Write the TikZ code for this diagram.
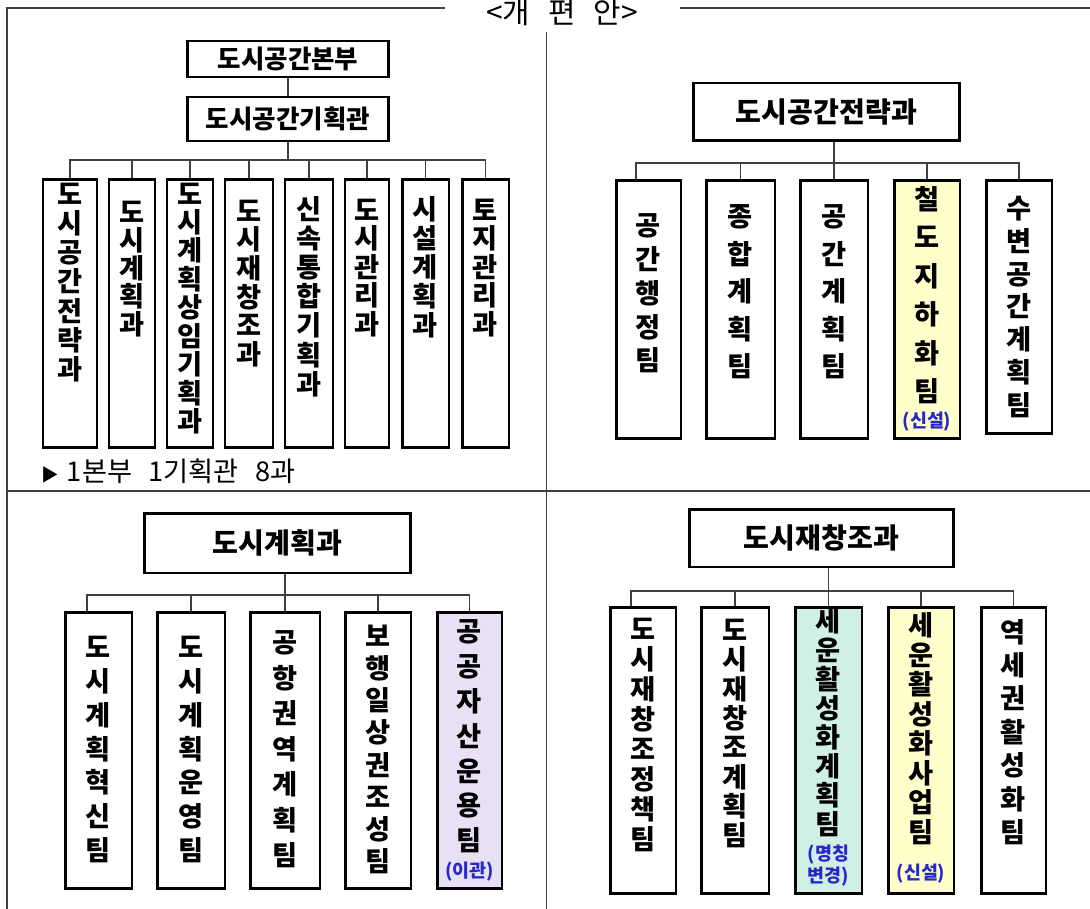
\documentclass[tikz,border=0pt]{standalone}
\usepackage{fontspec}
\usepackage{xcolor}
\usetikzlibrary{positioning}
\newfontfamily\kr{Noto Sans CJK KR}
\definecolor{newteam}{RGB}{255,255,204}
\definecolor{renamed}{RGB}{208,240,230}
\definecolor{moved}{RGB}{232,224,244}
\definecolor{remark}{RGB}{40,40,200}
\definecolor{frameline}{RGB}{64,64,64}

\begin{document}
\begin{tikzpicture}[x=0.02cm,y=-0.02cm,
    head node/.style={draw,line width=1.7pt,inner sep=0pt,font=\kr\bfseries\fontsize{16}{19}\selectfont},
    unit node/.style={draw,line width=1.7pt,inner sep=0pt},
    unit text/.style={align=center,inner sep=0pt,font=\kr\bfseries\fontsize{15.5}{#1}\selectfont},
    note text/.style={align=center,inner sep=0pt,text=remark,font=\kr\bfseries\fontsize{10.5}{12.5}\selectfont},
    link/.style={draw=frameline,line width=0.85pt},
    frame/.style={draw=frameline,line width=1.1pt}]

    \useasboundingbox (0,0) rectangle (1090,909);

    % frame
    \node[font=\kr\fontsize{17}{20}\selectfont,anchor=base] (title) at (562,24) {<개\hspace{0.6em}편\hspace{0.6em}안>};
    \draw[frame] (445,8) -- (7,8) -- (7,909);
    \draw[frame] (680,8) -- (1090,8);
    \draw[frame] (7,491) -- (1090,491);
    \draw[frame] (546.5,32) -- (546.5,909);

    % headquarters
    \node[head node,font=\kr\bfseries\fontsize{14.5}{17}\selectfont,minimum width=4.04cm,minimum height=0.72cm] (hq1) at (288,59) {도시공간본부};
    \node[head node,font=\kr\bfseries\fontsize{14.5}{17}\selectfont,minimum width=4.04cm,minimum height=0.88cm] (hq2) at (288,119) {도시공간기획관};

    \node[unit node,minimum width=1.08cm,minimum height=5.38cm] (tl1) at (70,313.5) {};
    \node[unit node,minimum width=0.92cm,minimum height=5.38cm] (tl2) at (132,313.5) {};
    \node[unit node,minimum width=0.92cm,minimum height=5.38cm] (tl3) at (190,313.5) {};
    \node[unit node,minimum width=0.96cm,minimum height=5.38cm] (tl4) at (249,313.5) {};
    \node[unit node,minimum width=0.96cm,minimum height=5.38cm] (tl5) at (309,313.5) {};
    \node[unit node,minimum width=0.88cm,minimum height=5.38cm] (tl6) at (367,313.5) {};
    \node[unit node,minimum width=0.94cm,minimum height=5.38cm] (tl7) at (425.5,313.5) {};
    \node[unit node,minimum width=0.94cm,minimum height=5.38cm] (tl8) at (485.5,313.5) {};

    \node[unit text=16.6] (tl1t) at (70,282.5) {도\\시\\공\\간\\전\\략\\과};
    \node[unit text=15.9] (tl2t) at (132,269) {도\\시\\계\\획\\과};
    \node[unit text=16.2] (tl3t) at (190,308.5) {도\\시\\계\\획\\상\\임\\기\\획\\과};
    \node[unit text=16.3] (tl4t) at (249,283.5) {도\\시\\재\\창\\조\\과};
    \node[unit text=16.6] (tl5t) at (309,296.5) {신\\속\\통\\합\\기\\획\\과};
    \node[unit text=16.2] (tl6t) at (367,268) {도\\시\\관\\리\\과};
    \node[unit text=16.5] (tl7t) at (425.5,267) {시\\설\\계\\획\\과};
    \node[unit text=16.2] (tl8t) at (485.5,268) {토\\지\\관\\리\\과};

    \coordinate (tlbus) at (288,160);
    \draw[link] (hq1) -- (hq2);
    \draw[link] (hq2) -- (tlbus);
    \draw[link] (tl1.north) |- (tlbus) -| (tl8.north);
    \foreach \n in {2,...,7}
        \draw[link] (tl\n.north) -- (tl\n.north |- tlbus);

    \node[anchor=base west,font=\kr\fontsize{15.5}{18}\selectfont] (sum) at (35,481)
        {{\fontsize{10}{10}\selectfont ▶}\hspace{0.3em}1본부\hspace{0.6em}1기획관\hspace{0.6em}8과};

    % spatial strategy
    \node[head node,minimum width=5.34cm,minimum height=1.16cm] (sp) at (826.5,112) {도시공간전략과};

    \node[unit node,minimum width=1.30cm,minimum height=5.18cm] (sp1) at (648.5,309.5) {};
    \node[unit node,minimum width=1.38cm,minimum height=5.18cm] (sp2) at (740.5,309.5) {};
    \node[unit node,minimum width=1.36cm,minimum height=5.18cm] (sp3) at (834,309.5) {};
    \node[unit node,fill=newteam,minimum width=1.32cm,minimum height=5.18cm] (sp4) at (927,309.5) {};
    \node[unit node,minimum width=1.32cm,minimum height=5.08cm] (sp5) at (1019,307) {};

    \node[unit text=19.2] (sp1t) at (648.5,293.5) {공\\간\\행\\정\\팀};
    \node[unit text=21.3] (sp2t) at (740.5,292) {종\\합\\계\\획\\팀};
    \node[unit text=21.3] (sp3t) at (834,292) {공\\간\\계\\획\\팀};
    \node[unit text=21.9] (sp4t) at (927,295) {철\\도\\지\\하\\화\\팀};
    \node[note text] (sp4n) at (927,422) {(신설)};
    \node[unit text=18.6] (sp5t) at (1019,307) {수\\변\\공\\간\\계\\획\\팀};

    \coordinate (spdrop) at (636,163);
    \draw[link] (spdrop |- sp1.north) -- (spdrop) -- (spdrop -| sp5.north) -- (sp5.north);
    \draw[link] (sp3.north) -- (sp3.north |- sp.south);
    \foreach \n in {2,4}
        \draw[link] (sp\n.north) -- (sp\n.north |- spdrop);

    % city planning
    \node[head node,minimum width=5.34cm,minimum height=1.2cm] (cp) at (277.5,543) {도시계획과};

    \node[unit node,minimum width=1.34cm,minimum height=5.54cm] (cp1) at (98.5,750.5) {};
    \node[unit node,minimum width=1.36cm,minimum height=5.54cm] (cp2) at (191,750.5) {};
    \node[unit node,minimum width=1.40cm,minimum height=5.54cm] (cp3) at (285,750.5) {};
    \node[unit node,minimum width=1.32cm,minimum height=5.54cm] (cp4) at (378,750.5) {};
    \node[unit node,fill=moved,minimum width=1.30cm,minimum height=5.54cm] (cp5) at (469.5,750.5) {};

    \node[unit text=19.3] (cp1t) at (98.5,749.5) {도\\시\\계\\획\\혁\\신\\팀};
    \node[unit text=19.3] (cp2t) at (191,749.5) {도\\시\\계\\획\\운\\영\\팀};
    \node[unit text=20.2] (cp3t) at (285,749.5) {공\\항\\권\\역\\계\\획\\팀};
    \node[unit text=18.3] (cp4t) at (378,749.5) {보\\행\\일\\상\\권\\조\\성\\팀};
    \node[unit text=19.8] (cp5t) at (469.5,736.5) {공\\공\\자\\산\\운\\용\\팀};
    \node[note text] (cp5n) at (469.5,872) {(이관)};

    \coordinate (cpdrop) at (87,595);
    \draw[link] (cpdrop |- cp1.north) -- (cpdrop) -- (cpdrop -| cp5.north) -- (cp5.north);
    \draw[link] (cp3.north) -- (cp3.north |- cp.south);
    \foreach \n in {2,4}
        \draw[link] (cp\n.north) -- (cp\n.north |- cpdrop);

    % urban regeneration
    \node[head node,minimum width=5.3cm,minimum height=1.16cm] (rg) at (821.5,538) {도시재창조과};

    \node[unit node,minimum width=1.32cm,minimum height=5.74cm] (rg1) at (643,750.5) {};
    \node[unit node,minimum width=1.36cm,minimum height=5.74cm] (rg2) at (735,750.5) {};
    \node[unit node,fill=renamed,minimum width=1.34cm,minimum height=5.74cm] (rg3) at (828.5,750.5) {};
    \node[unit node,fill=newteam,minimum width=1.32cm,minimum height=5.74cm] (rg4) at (921,750.5) {};
    \node[unit node,minimum width=1.30cm,minimum height=5.74cm] (rg5) at (1013.5,750.5) {};

    \node[unit text=17.0] (rg1t) at (643,735) {도\\시\\재\\창\\조\\정\\책\\팀};
    \node[unit text=16.7] (rg2t) at (735,733.5) {도\\시\\재\\창\\조\\계\\획\\팀};
    \node[unit text=16.5] (rg3t) at (828.5,723) {세\\운\\활\\성\\화\\계\\획\\팀};
    \node[note text] (rg3n) at (828.5,866) {(명칭\\변경)};
    \node[unit text=16.8] (rg4t) at (921,728.5) {세\\운\\활\\성\\화\\사\\업\\팀};
    \node[note text] (rg4n) at (921,874) {(신설)};
    \node[unit text=19.0] (rg5t) at (1013.5,732) {역\\세\\권\\활\\성\\화\\팀};

    \coordinate (rgdrop) at (631,591);
    \draw[link] (rgdrop |- rg1.north) -- (rgdrop) -- (rgdrop -| rg5.north) -- (rg5.north);
    \draw[link] (rg3.north) -- (rg3.north |- rg.south);
    \foreach \n in {2,4}
        \draw[link] (rg\n.north) -- (rg\n.north |- rgdrop);
\end{tikzpicture}
\end{document}
